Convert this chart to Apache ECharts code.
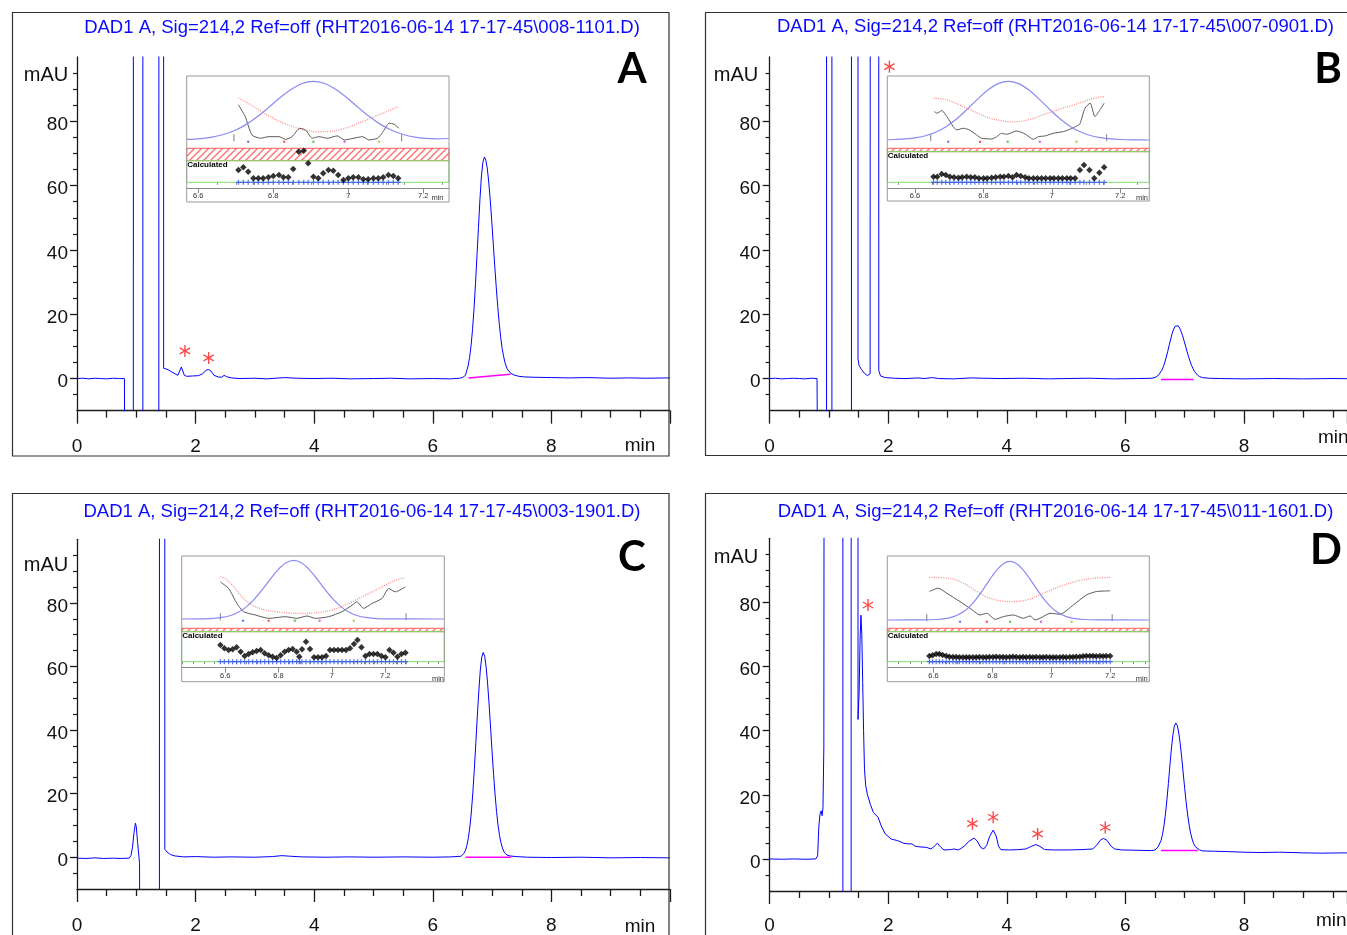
<!DOCTYPE html>
<html><head><meta charset="utf-8">
<script src="https://cdn.jsdelivr.net/npm/echarts@6/dist/echarts.min.js"></script>
<style>html,body{margin:0;padding:0;background:#fff}#c{width:1347px;height:935px}</style>
</head><body><div id="c"></div>
<script>
// ---------------- DATA ----------------
const titles = [
  'DAD1 A, Sig=214,2 Ref=off (RHT2016-06-14 17-17-45\\008-1101.D)',
  'DAD1 A, Sig=214,2 Ref=off (RHT2016-06-14 17-17-45\\007-0901.D)',
  'DAD1 A, Sig=214,2 Ref=off (RHT2016-06-14 17-17-45\\003-1901.D)',
  'DAD1 A, Sig=214,2 Ref=off (RHT2016-06-14 17-17-45\\011-1601.D)'
];
const panelLetters = ['A','B','C','D'];
const yMajor = [0,20,40,60,80];
const yMinor = [-5,5,10,15,25,30,35,45,50,55,65,70,75,85,90,95];
const insetMajor = [6.6,6.8,7,7.2];

const traceA = [[0,0],[0.1,0.1],[0.2,-0.1],[0.3,0.1],[0.4,0],[0.5,-0.1],[0.6,0.1],[0.7,0],[0.8,0],[0.81,-60],[0.95,-60],[0.951,300],[1.11,300],[1.111,-60],[1.38,-60],[1.381,300],[1.46,300],[1.461,3.2],[1.5,3],[1.55,2.6],[1.6,2],[1.65,1.5],[1.7,1],[1.73,1.2],[1.76,3.6],[1.78,3],[1.81,1],[1.85,0.7],[1.95,0.8],[2.05,0.9],[2.12,1.5],[2.18,2.6],[2.22,2.8],[2.26,2.3],[2.31,1],[2.38,0.5],[2.44,0.4],[2.48,1],[2.52,0.6],[2.6,0.2],[2.75,0],[3,0.1],[3.2,-0.1],[3.5,0.3],[3.7,0.1],[4,0],[4.3,0.1],[4.6,-0.1],[5,0],[5.3,0.1],[5.6,-0.1],[6,0],[6.3,-0.1],[6.45,0.1],[6.5,0.3],[6.55,1],[6.57,2.3],[6.595,3.9],[6.62,6.5],[6.645,10.2],[6.67,15.2],[6.695,21.6],[6.72,29.5],[6.745,38.2],[6.77,47],[6.795,55.7],[6.82,63],[6.845,67.3],[6.87,68.9],[6.895,67.9],[6.92,65.2],[6.945,60.8],[6.97,55.2],[6.995,48.7],[7.02,41.8],[7.045,34.9],[7.07,28.4],[7.095,22.4],[7.12,17.2],[7.145,12.8],[7.17,9.3],[7.195,6.8],[7.22,4.8],[7.25,3.2],[7.28,2.3],[7.32,1.6],[7.37,1.1],[7.45,0.7],[7.55,0.5],[7.7,0.4],[8,0.3],[8.3,0.2],[8.6,0.3],[9,0.1],[9.3,0.2],[9.6,0.1],[10,0.2]];
const baseA = [[6.6,0.2],[7.31,1.3]];
const starsA = [[1.82,8.6],[2.22,6.4]];

const traceB = [[0,0],[0.1,0.1],[0.2,-0.1],[0.3,0],[0.4,0.1],[0.5,0],[0.6,-0.1],[0.7,0.1],[0.8,0],[0.82,-60],[0.96,-60],[0.961,300],[1.05,300],[1.051,-60],[1.38,-60],[1.381,300],[1.49,300],[1.491,6],[1.51,4],[1.55,2.8],[1.6,1.6],[1.65,0.9],[1.68,0.8],[1.695,1.5],[1.7,300],[1.84,300],[1.841,2.5],[1.87,0.8],[1.95,0.3],[2.1,0.1],[2.3,0],[2.5,0.2],[2.6,0],[2.75,0.3],[2.85,0],[3.1,-0.1],[3.4,0.2],[3.6,0.1],[3.9,0],[4.3,0.1],[4.7,-0.1],[5,0],[5.4,0.1],[5.8,-0.1],[6.2,0],[6.45,0.1],[6.515,0.45],[6.565,1.2],[6.615,2.6],[6.64,3.7],[6.665,5.1],[6.69,6.7],[6.715,8.5],[6.74,10.5],[6.765,12.3],[6.79,14.1],[6.815,15.4],[6.84,16.3],[6.865,16.6],[6.89,16.4],[6.915,15.7],[6.94,14.6],[6.965,13.3],[6.99,11.7],[7.015,10.1],[7.04,8.4],[7.065,6.8],[7.09,5.4],[7.115,4.1],[7.14,3.1],[7.165,2.2],[7.19,1.6],[7.215,1.1],[7.25,0.6],[7.3,0.3],[7.4,0.1],[7.6,0],[8,-0.1],[8.5,0],[9,-0.1],[9.5,0],[10,-0.1]];
const baseB = [[6.6,-0.3],[7.15,-0.3]];
const starsB = [[2.02,97]];

const traceC = [[0,-0.3],[0.15,-0.4],[0.3,-0.2],[0.45,-0.4],[0.6,-0.3],[0.75,-0.4],[0.88,-0.3],[0.91,0.5],[0.935,3],[0.96,7.5],[0.985,10.7],[1.0,9.5],[1.02,5],[1.04,1],[1.055,-2],[1.06,-60],[1.39,-60],[1.391,300],[1.48,300],[1.481,2.5],[1.52,1.6],[1.58,0.8],[1.65,0.4],[1.8,0.1],[2,0.2],[2.3,0],[2.6,0.1],[3,0],[3.3,0.2],[3.45,0.5],[3.6,0.3],[3.8,0.1],[4.2,0],[4.6,0.1],[5,0],[5.5,0.1],[6,0],[6.3,0.1],[6.475,0.3],[6.525,1.2],[6.55,2.1],[6.575,3.7],[6.6,6.1],[6.625,9.5],[6.65,14.2],[6.675,20.2],[6.7,27.5],[6.725,35.7],[6.75,44.1],[6.775,52],[6.8,58.6],[6.825,62.9],[6.85,64.4],[6.875,63.2],[6.9,59.8],[6.925,54.5],[6.95,47.9],[6.975,40.6],[7.0,33.1],[7.025,26],[7.05,19.7],[7.075,14.4],[7.1,10.1],[7.125,6.9],[7.15,4.5],[7.18,2.6],[7.21,1.4],[7.25,0.7],[7.3,0.4],[7.4,0.2],[7.6,0],[8,-0.1],[8.5,0],[9,-0.2],[9.5,-0.1],[10,-0.2]];
const baseC = [[6.55,0],[7.32,0]];

const traceD = [[0,0],[0.2,-0.1],[0.4,0],[0.6,-0.1],[0.78,0],[0.81,1],[0.83,10],[0.85,14],[0.87,15],[0.885,13.5],[0.9,16],[0.915,35],[0.925,300],[1.235,300],[1.236,-60],[1.375,-60],[1.376,300],[1.49,300],[1.491,43.5],[1.51,52],[1.525,68],[1.54,76],[1.555,70],[1.57,55],[1.585,40],[1.6,28],[1.62,23],[1.65,20],[1.7,17],[1.75,14.5],[1.78,14.8],[1.83,13],[1.88,10.4],[1.95,7.8],[2.05,6.2],[2.16,5.7],[2.26,4.9],[2.34,4.7],[2.37,4.1],[2.4,4.7],[2.45,4],[2.51,3.8],[2.65,3.6],[2.72,3.1],[2.78,4],[2.83,4.9],[2.88,3.8],[2.94,2.8],[3.05,2.9],[3.11,3.1],[3.18,2.8],[3.23,3.3],[3.29,4.1],[3.36,5.5],[3.45,6.5],[3.5,5.6],[3.56,3.6],[3.61,3.1],[3.66,4.2],[3.71,7],[3.77,9],[3.82,7.2],[3.86,4],[3.9,2.9],[4.03,2.8],[4.2,2.9],[4.32,3.1],[4.4,3.8],[4.49,4.5],[4.56,3.9],[4.64,2.9],[4.8,2.8],[5.02,2.8],[5.25,2.9],[5.45,3.1],[5.52,4.4],[5.58,5.9],[5.63,6.4],[5.69,5.8],[5.76,3.9],[5.82,3.1],[5.94,2.8],[6.2,2.7],[6.44,2.6],[6.5,2.8],[6.55,3.7],[6.6,5.7],[6.625,7.6],[6.65,10.3],[6.675,13.9],[6.7,18.4],[6.725,23.5],[6.75,29],[6.775,34.2],[6.8,38.5],[6.825,41.4],[6.85,42.4],[6.875,41.6],[6.9,39.3],[6.925,35.9],[6.95,31.5],[6.975,26.8],[7.0,22],[7.025,17.6],[7.05,13.7],[7.075,10.6],[7.1,8],[7.125,6.2],[7.15,4.8],[7.18,3.8],[7.21,3.2],[7.25,2.8],[7.3,2.5],[7.5,2.4],[7.7,2.3],[8,2.1],[8.3,2.0],[8.6,2.1],[9,1.9],[9.3,1.8],[9.7,1.9],[10,1.7]];
const baseD = [[6.6,2.65],[7.22,2.6]];
const starsD = [[1.66,79.2],[3.42,11],[3.77,13],[4.52,7.8],[5.66,9.8]];

// ---- insets (peak purity windows) ----
const uvA = [[6.569,0.9],[6.607,2.4],[6.637,4.9],[6.667,9.3],[6.697,16.2],[6.727,26.2],[6.757,39.5],[6.787,55.2],[6.817,71.5],[6.847,86.2],[6.877,96.3],[6.907,100],[6.937,96.3],[6.967,86.2],[6.997,71.5],[7.027,55.2],[7.057,39.5],[7.087,26.2],[7.117,16.2],[7.147,9.3],[7.177,4.9],[7.207,2.6],[7.237,2],[7.268,2.5]];
const pinkA = [[6.707,71.5],[6.74,60],[6.77,48],[6.8,37],[6.83,28],[6.86,21],[6.89,16],[6.92,14],[6.95,14.5],[6.98,18],[7.01,24],[7.04,32],[7.07,40],[7.1,48],[7.133,57]];
const grayA = [[6.707,60],[6.725,40],[6.743,8.6],[6.766,3],[6.788,5.7],[6.815,5.7],[6.833,1],[6.85,5.7],[6.871,20],[6.886,17],[6.904,3],[6.922,5.7],[6.944,3],[6.971,7],[6.989,0],[7.015,3],[7.038,5.7],[7.055,0],[7.078,3],[7.091,12.6],[7.109,28.6],[7.122,26.9],[7.135,20]];
const marksA = [[6.695,3.7],[7.142,3.7]];
const dotsA = [[6.733,-3],[6.829,-3],[6.907,-3],[6.99,-3],[7.082,-3]];
const bandA = [21.6,34], boxA = [0,21.6];
const purityA = [[6.707,12.3],[6.72,15],[6.733,10.6],[6.747,4],[6.76,4],[6.773,4],[6.787,5],[6.8,6.3],[6.815,7.3],[6.827,5],[6.84,5],[6.853,13.3],[6.868,30.6],[6.881,31.6],[6.893,19],[6.907,5.6],[6.92,4],[6.933,9],[6.947,12.3],[6.96,11.6],[6.973,7.3],[6.987,2.3],[7.0,4],[7.013,5],[7.027,5],[7.04,3],[7.053,3],[7.067,4],[7.08,4],[7.093,5],[7.107,7.3],[7.12,6.3],[7.133,4]];
const minorA = [6.65,6.7,6.75,6.85,6.9,6.95,7.05,7.1,7.15,7.25];

const uvB = [[6.519,0.4],[6.543,0.8],[6.573,1.8],[6.603,3.9],[6.633,7.7],[6.663,14],[6.693,23.6],[6.723,36.7],[6.753,52.7],[6.783,69.7],[6.813,85.2],[6.843,96.1],[6.873,100],[6.903,96.1],[6.933,85.2],[6.963,69.7],[6.993,52.7],[7.023,36.7],[7.053,23.6],[7.083,14],[7.113,7.7],[7.143,3.9],[7.173,1.8],[7.203,0.8],[7.233,0.3],[7.285,0]];
const pinkB = [[6.654,71.5],[6.68,70],[6.7,67],[6.73,60],[6.76,52],[6.79,44],[6.82,37],[6.85,33],[6.88,31],[6.91,32],[6.94,36],[6.97,42],[7.0,48],[7.03,54],[7.06,59],[7.09,65],[7.12,71],[7.153,74]];
const grayB = [[6.656,48.6],[6.665,45.7],[6.678,50.3],[6.693,40],[6.722,17.2],[6.741,20],[6.759,17.2],[6.78,8.6],[6.795,2.9],[6.824,1.7],[6.839,5.7],[6.853,11.4],[6.868,9.7],[6.897,15.4],[6.922,10.3],[6.946,1.1],[6.961,5.7],[6.98,6.9],[7.004,11.4],[7.034,14.3],[7.053,18.3],[7.073,24],[7.082,27.4],[7.097,54.3],[7.112,62.9],[7.126,40],[7.141,51.5],[7.153,62.9]];
const marksB = [[6.646,3.7],[7.16,3.7]];
const dotsB = [[6.697,-3],[6.79,-3],[6.871,-3],[6.965,-3],[7.072,-3]];
const bandB = [30.6,34], boxB = [0,30.6];
const purityB = [[6.654,5.6],[6.665,5.6],[6.678,8.3],[6.69,7.3],[6.702,5.6],[6.714,5],[6.727,4.5],[6.738,5],[6.751,5.6],[6.763,5],[6.775,5],[6.787,4],[6.8,4],[6.811,4],[6.824,4.5],[6.836,5],[6.849,5.6],[6.86,5.6],[6.873,6.3],[6.885,5],[6.897,7.3],[6.909,6.3],[6.922,5],[6.933,4],[6.946,4],[6.958,4],[6.97,4],[6.982,4],[6.995,4],[7.006,4],[7.019,4],[7.031,4],[7.044,4],[7.055,4],[7.068,4],[7.082,12.3],[7.094,17.3],[7.11,12.3],[7.124,4],[7.139,9.6],[7.153,15]];
const minorB = [6.55,6.65,6.7,6.75,6.85,6.9,6.95,7.05,7.1,7.15,7.25];

const uvC = [[6.437,0],[6.5,0.2],[6.557,1.1],[6.587,2.6],[6.617,5.6],[6.647,11],[6.677,19.8],[6.707,32.5],[6.737,48.7],[6.767,66.7],[6.797,83.5],[6.827,95.6],[6.857,100],[6.887,95.6],[6.917,83.5],[6.947,66.7],[6.977,48.7],[7.007,32.5],[7.037,19.8],[7.067,11],[7.097,5.6],[7.127,2.6],[7.157,1.1],[7.21,0.2],[7.42,0]];
const pinkC = [[6.582,71.7],[6.601,68.9],[6.632,54.8],[6.663,37.9],[6.701,23.7],[6.751,15.3],[6.813,11.3],[6.888,9.6],[6.938,10.7],[7.001,15.3],[7.063,26.6],[7.126,40.7],[7.188,54.8],[7.238,66.1],[7.276,70.6]];
const grayC = [[6.582,63.2],[6.613,52],[6.644,26.6],[6.669,12.4],[6.713,6.8],[6.763,1.1],[6.826,3.9],[6.869,1.1],[6.907,5.1],[6.938,1.1],[6.988,3.9],[7.038,12.4],[7.076,23.7],[7.094,29.4],[7.119,18.1],[7.151,26.6],[7.188,35],[7.213,52],[7.238,46.3],[7.276,54.8]];
const marksC = [[6.582,3.7],[7.278,3.7]];
const dotsC = [[6.667,-3],[6.763,-3],[6.861,-3],[6.954,-3],[7.082,-3]];
const bandC = [30,33.4], boxC = [0,30];
const purityC = [[6.582,16.7],[6.597,13.4],[6.613,11.7],[6.628,12.4],[6.643,14.4],[6.658,10],[6.673,5.7],[6.688,7.7],[6.703,9.4],[6.718,10.7],[6.733,11.7],[6.748,8.4],[6.763,6.4],[6.778,5],[6.793,3.7],[6.808,6.4],[6.823,10],[6.838,11.7],[6.853,12.7],[6.868,10],[6.878,5],[6.888,12.4],[6.903,20],[6.918,12.7],[6.933,4.4],[6.948,4.4],[6.963,4.4],[6.978,5.7],[6.993,11.7],[7.008,11.7],[7.023,11.7],[7.038,11.7],[7.053,11.7],[7.068,13.4],[7.083,17.7],[7.096,21.7],[7.111,14.4],[7.126,5.7],[7.141,7.7],[7.156,7.7],[7.171,7.7],[7.186,5.7],[7.201,4.4],[7.216,11.7],[7.231,9],[7.246,5],[7.261,7.7],[7.276,9]];
const minorC = [6.44,6.48,6.52,6.56,6.64,6.68,6.72,6.76,6.84,6.88,6.92,6.96,7.04,7.08,7.12,7.16,7.24,7.28,7.32,7.36,7.4];

const uvD = [[6.443,0],[6.56,0.1],[6.61,0.8],[6.64,2.3],[6.66,4.4],[6.68,8],[6.7,13.5],[6.72,21.6],[6.74,32.5],[6.76,45.8],[6.78,60.7],[6.8,75.5],[6.82,88.2],[6.84,96.9],[6.86,100],[6.88,96.9],[6.9,88.2],[6.92,75.5],[6.94,60.7],[6.96,45.8],[6.98,32.5],[7.0,21.6],[7.02,13.5],[7.04,8],[7.06,4.4],[7.08,2.3],[7.11,0.8],[7.16,0.1],[7.333,0]];
const pinkD = [[6.586,72.6],[6.645,71.5],[6.701,62.9],[6.747,48.6],[6.792,37.2],[6.86,31.4],[6.917,34.3],[6.973,45.7],[7.03,57.2],[7.098,67.5],[7.154,71.5],[7.2,72.6]];
const grayD = [[6.586,48.6],[6.616,54.3],[6.645,45.7],[6.69,31.4],[6.724,20],[6.758,8.6],[6.781,11.4],[6.809,1.1],[6.837,5.7],[6.871,8.6],[6.905,2.9],[6.928,6.9],[6.945,0],[6.962,2.9],[6.996,11.4],[7.03,9.7],[7.075,25.7],[7.12,42.9],[7.154,48.6],[7.2,49.7]];
const marksD = [[6.577,3.7],[7.207,3.7]];
const dotsD = [[6.69,-3],[6.781,-3],[6.86,-3],[6.965,-3],[7.069,-3]];
const bandD = [30,33.4], boxD = [0,30];
const purityD = [[6.586,5.7],[6.597,6.4],[6.609,7.7],[6.62,7.7],[6.631,6.7],[6.643,5.7],[6.654,5],[6.666,4.7],[6.677,4.7],[6.688,4.4],[6.7,4.4],[6.711,4.4],[6.722,4.4],[6.734,4.4],[6.745,4.4],[6.756,4.7],[6.768,4.4],[6.779,4.4],[6.79,4.7],[6.802,4.7],[6.813,5],[6.825,4.7],[6.836,4.7],[6.847,4.4],[6.859,4.7],[6.87,5],[6.881,4.7],[6.893,4.4],[6.904,4.7],[6.915,4.4],[6.927,4.7],[6.938,4.4],[6.949,4.7],[6.961,4.4],[6.972,4.4],[6.983,4.7],[6.995,4.4],[7.006,4.4],[7.017,4.4],[7.029,4.4],[7.04,4.7],[7.051,4.4],[7.063,4.7],[7.074,4.7],[7.085,5],[7.097,5],[7.108,5.4],[7.119,5.7],[7.131,5.7],[7.142,5.7],[7.153,5.4],[7.165,5.7],[7.176,5.4],[7.187,5.7],[7.2,5.7]];
const minorD = [6.48,6.52,6.56,6.64,6.68,6.72,6.76,6.84,6.88,6.92,6.96,7.04,7.08,7.12,7.16,7.24,7.28,7.32];

// ---------------- BUILD ----------------
const FONT = '"Liberation Sans", Arial, sans-serif';
const AX = '#1a1a1a';
const STAR = 'path://M-0.7,-6L0.7,-6L0.7,6L-0.7,6Z M-5.546,-2.394L-4.846,-3.606L5.546,2.394L4.846,3.606Z M4.846,-3.606L5.546,-2.394L-4.846,3.606L-5.546,2.394Z';
const PLUS = 'path://M1.5,0h1v1.5h1.5v1h-1.5v1.5h-1v-1.5h-1.5v-1h1.5z';
const DOT_COLORS = ['#4060ff','#ff3030','#30c030','#e040e0','#a0c030'];
const HATCH = (function(){
  const c = document.createElement('canvas'); c.width = 7; c.height = 7;
  const g = c.getContext('2d');
  g.fillStyle = '#fff'; g.fillRect(0,0,7,7);
  g.strokeStyle = '#ff6a6a'; g.lineWidth = 1.3;
  g.beginPath(); g.moveTo(-1,8); g.lineTo(8,-1); g.moveTo(-1,1); g.lineTo(1,-1); g.moveTo(6,8); g.lineTo(8,6); g.stroke();
  return c;
})();

const grid=[], xAxis=[], yAxis=[], series=[], graphic=[];

function addMain(P){
  const gi = grid.length;
  grid.push({left:P.box[0], top:P.box[1], width:P.box[2], height:P.box[3]});
  const xi = xAxis.length;
  xAxis.push({gridIndex:gi,type:'value',min:0,max:P.xmax,interval:2,
    axisLine:{onZero:false,lineStyle:{color:AX,width:1.3}},
    axisTick:{length:13,lineStyle:{color:AX,width:1.3}},
    minorTick:{show:true,splitNumber:4,length:7,lineStyle:{color:AX,width:1.3}},
    splitLine:{show:false},minorSplitLine:{show:false},
    axisLabel:{fontSize:19,color:'#111',fontFamily:FONT,margin:P.xm,showMaxLabel:false,
      formatter:v=>(v<10 && Math.abs(v/2-Math.round(v/2))<1e-6)?String(v):''}});
  const yi = yAxis.length;
  yAxis.push({gridIndex:gi,type:'value',min:-10,max:100,position:'left',
    axisLine:{show:true,onZero:false,lineStyle:{color:AX,width:1.3}},
    axisTick:{show:true,length:7,customValues:yMajor,lineStyle:{color:AX,width:1.3}},
    axisLabel:{customValues:yMajor,margin:9,formatter:v=>'{n|'+v+'}',
      rich:{n:{fontSize:19,color:'#111',fontFamily:FONT,padding:[7,0,0,0]}}},
    splitLine:{show:false}});
  yAxis.push({gridIndex:gi,type:'value',min:-10,max:100,position:'left',
    axisLine:{show:false},
    axisTick:{show:true,length:4,customValues:yMinor,lineStyle:{color:AX,width:1.2}},
    axisLabel:{show:false},splitLine:{show:false}});
  series.push({type:'line',xAxisIndex:xi,yAxisIndex:yi,data:P.trace,symbol:'none',clip:true,
    lineStyle:{color:'#0000ff',width:1},z:3});
  series.push({type:'line',xAxisIndex:xi,yAxisIndex:yi,data:P.base,symbol:'none',
    lineStyle:{color:'#ff00ff',width:1.5},z:4});
  if (P.stars) series.push({type:'scatter',xAxisIndex:xi,yAxisIndex:yi,data:P.stars,
    symbol:STAR,symbolSize:[11,12],itemStyle:{color:'#ff1a1a'},z:5});
}

function addInset(I){
  let gi = grid.length;
  grid.push({left:I.left, top:I.upTop, width:I.width, height:66.8});
  let xi = xAxis.length, yi = yAxis.length;
  xAxis.push({gridIndex:gi,type:'value',min:I.xmin,max:I.xmax,show:false});
  yAxis.push({gridIndex:gi,type:'value',min:-6,max:108,show:false});
  const ax = {xAxisIndex:xi,yAxisIndex:yi};
  series.push(Object.assign({type:'line',data:I.pink,symbol:'none',smooth:0.4,
    lineStyle:{color:'#ff8a8a',width:1.3,type:[1,1.3]}},ax));
  series.push(Object.assign({type:'line',data:I.gray,symbol:'none',smooth:0.2,
    lineStyle:{color:'#5a5a5a',width:1}},ax));
  series.push(Object.assign({type:'line',data:I.uv,symbol:'none',smooth:0.35,
    lineStyle:{color:'#8a8af2',width:1.2}},ax));
  series.push(Object.assign({type:'scatter',data:I.marks,symbol:'rect',symbolSize:[1.2,7],
    itemStyle:{color:'#777'}},ax));
  series.push(Object.assign({type:'scatter',symbolSize:2.4,
    data:I.dots.map((d,k)=>({value:d,itemStyle:{color:DOT_COLORS[k]}}))},ax));

  gi = grid.length;
  grid.push({left:I.left, top:I.lowTop, width:I.width, height:46});
  xi = xAxis.length; yi = yAxis.length;
  xAxis.push({gridIndex:gi,type:'value',min:I.xmin,max:I.xmax,position:'bottom',
    axisLine:{onZero:false,lineStyle:{color:'#8a8a8a',width:1}},
    axisTick:{customValues:insetMajor,length:5,lineStyle:{color:'#8a8a8a'}},
    axisLabel:{customValues:insetMajor,fontSize:7.5,color:'#333',margin:4,fontFamily:FONT},
    splitLine:{show:false}});
  xAxis.push({gridIndex:gi,type:'value',min:I.xmin,max:I.xmax,position:'bottom',
    axisLine:{show:false},
    axisTick:{customValues:I.minor,length:2.5,lineStyle:{color:'#8a8a8a'}},
    axisLabel:{show:false},splitLine:{show:false}});
  yAxis.push({gridIndex:gi,type:'value',min:-6,max:40,show:false});
  const ax2 = {xAxisIndex:xi,yAxisIndex:yi};
  series.push(Object.assign({type:'scatter',data:I.purity.map(d=>[d[0],0]),symbol:PLUS,symbolSize:5,
    itemStyle:{color:'#3050f0'},
    markArea:{silent:true,label:{show:false},data:[
      [{yAxis:I.band[0],itemStyle:{color:{image:HATCH,repeat:'repeat'},borderColor:'#ff5a5a',borderWidth:1}},{yAxis:I.band[1]}],
      [{yAxis:I.box[0],itemStyle:{color:'rgba(255,255,255,0)',borderColor:'#7ddd6a',borderWidth:1},
        label:{show:true,position:'insideTopLeft',distance:1,formatter:'Calculated',fontSize:8,fontWeight:'bold',color:'#000',fontFamily:FONT}},
       {yAxis:I.box[1]}]
    ]}},ax2));
  series.push(Object.assign({type:'scatter',data:I.purity,symbol:'diamond',symbolSize:6.5,
    itemStyle:{color:'#000'},z:4},ax2));

  graphic.push({type:'rect',shape:{x:I.frame[0],y:I.frame[1],width:I.frame[2],height:I.frame[3]},
    style:{fill:'none',stroke:'#9a9a9a',lineWidth:1},z:10});
  graphic.push({type:'text',x:I.minPos[0],y:I.minPos[1],
    style:{text:'min',font:'7.5px '+FONT,fill:'#333',align:'center',verticalAlign:'middle'},z:10});
}

// right-hand panels are cut by the page edge: the axis runs on past 1347px at the same scale
addMain({box:[77,57,593,353.7],xmax:10,xm:27,trace:traceA,base:baseA,stars:starsA});
addMain({box:[769.6,57,577.4,353.7],xmax:9.737,xm:27,trace:traceB,base:baseB,stars:starsB});
addMain({box:[77,539.3,593,354],xmax:10,xm:27,trace:traceC,base:baseC});
addMain({box:[769.6,538.3,577.4,354.4],xmax:9.737,xm:25,trace:traceD,base:baseD,stars:starsD});

addInset({left:186.7,width:262.3,xmin:6.569,xmax:7.2685,upTop:76.7,lowTop:142.3,
  uv:uvA,pink:pinkA,gray:grayA,marks:marksA,dots:dotsA,band:bandA,box:boxA,purity:purityA,minor:minorA,
  frame:[186.7,76,262.3,126],minPos:[437.5,197.5]});
addInset({left:887.3,width:262,xmin:6.519,xmax:7.285,upTop:76.7,lowTop:142.3,
  uv:uvB,pink:pinkB,gray:grayB,marks:marksB,dots:dotsB,band:bandB,box:boxB,purity:purityB,minor:minorB,
  frame:[887.3,76,262,125],minPos:[1142,198]});
addInset({left:181.7,width:262.6,xmin:6.437,xmax:7.4216,upTop:555.7,lowTop:621.7,
  uv:uvC,pink:pinkC,gray:grayC,marks:marksC,dots:dotsC,band:bandC,box:boxC,purity:purityC,minor:minorC,
  frame:[181.7,556,262.6,125.7],minPos:[438,678.5]});
addInset({left:887.3,width:262,xmin:6.443,xmax:7.333,upTop:556.7,lowTop:621.7,
  uv:uvD,pink:pinkD,gray:grayD,marks:marksD,dots:dotsD,band:bandD,box:boxD,purity:purityD,minor:minorD,
  frame:[887.3,556,262,125.7],minPos:[1141.7,678.5]});

// panel frames and texts
const frames = [[12.5,12.5,656.5,443.5],[705.5,12.5,660,443],[12.5,493.5,656.5,460],[705.5,493.5,660,460]];
const titlePos = [[362,28.3],[1055.5,27],[362,511.7],[1055.5,511.7]];
const letterPos = [[632,69],[1328,69],[632,557],[1326,550]];
const mauPos = [[46,75],[736,75],[46,565],[736,557]];
const minPos = [[640,446,'center'],[1318,438,'left'],[640,926.7,'center'],[1316,921,'left']];
for (let k=0;k<4;k++){
  graphic.push({type:'rect',shape:{x:frames[k][0],y:frames[k][1],width:frames[k][2],height:frames[k][3]},
    style:{fill:'none',stroke:'#333',lineWidth:1.2},z:10});
  graphic.push({type:'text',x:titlePos[k][0],y:titlePos[k][1],
    style:{text:titles[k],font:'18.5px '+FONT,fill:'#0a0aff',align:'center',verticalAlign:'middle'},z:10});
  graphic.push({type:'text',x:letterPos[k][0],y:letterPos[k][1],
    style:{text:panelLetters[k],font:'bold 42px Lato, "Open Sans", sans-serif',fill:'#000',align:'center',verticalAlign:'middle'},z:10});
  graphic.push({type:'text',x:mauPos[k][0],y:mauPos[k][1],
    style:{text:'mAU',font:'20px '+FONT,fill:'#111',align:'center',verticalAlign:'middle'},z:10});
  graphic.push({type:'text',x:minPos[k][0],y:minPos[k][1],
    style:{text:'min',font:'19px '+FONT,fill:'#111',align:minPos[k][2],verticalAlign:'middle'},z:10});
}

const chart = echarts.init(document.getElementById('c'));
chart.setOption({animation:false,backgroundColor:'#fff',grid,xAxis,yAxis,series,graphic});
</script></body></html>
